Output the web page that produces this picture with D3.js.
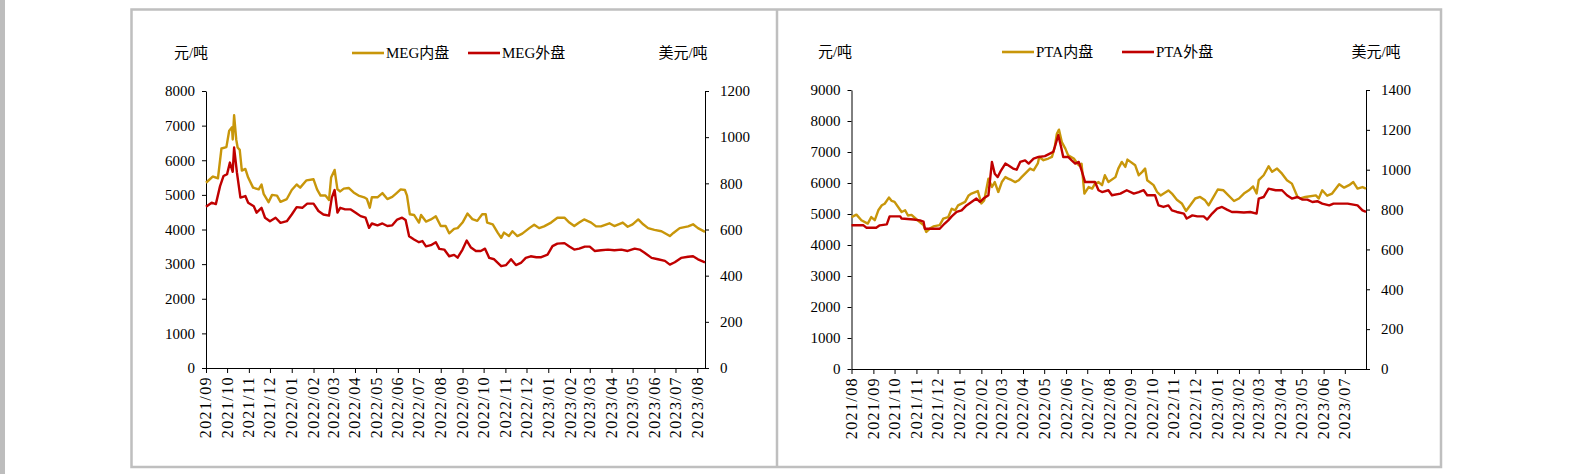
<!DOCTYPE html>
<html>
<head>
<meta charset="utf-8">
<script src="https://cdn.jsdelivr.net/npm/d3@7"></script>
<style>
  body { margin: 0; background: #fff; }
  svg { display: block; }
</style>
</head>
<body>
<svg id="chart" width="1584" height="474"></svg>
<script>
// ---------------- DATA ----------------
// MEG (left panel): domestic in 元/吨 (left axis), foreign in 美元/吨 (right axis)
const megDomestic = [
  ["2021-09-01",5350],["2021-09-09",5500],["2021-09-11",5530],["2021-09-18",5480],["2021-09-23",6340],
  ["2021-09-30",6380],["2021-10-04",6850],["2021-10-08",6950],["2021-10-09",6600],["2021-10-11",7300],
  ["2021-10-14",6600],["2021-10-16",6370],["2021-10-19",6300],["2021-10-22",5700],["2021-10-27",5750],
  ["2021-10-31",5500],["2021-11-07",5210],["2021-11-15",5160],["2021-11-19",5300],["2021-11-22",5030],
  ["2021-11-29",4790],["2021-12-04",5000],["2021-12-11",4980],["2021-12-16",4800],["2021-12-25",4880],
  ["2022-01-01",5140],["2022-01-08",5300],["2022-01-13",5210],["2022-01-22",5420],["2022-02-01",5450],
  ["2022-02-06",5160],["2022-02-11",4980],["2022-02-18",4980],["2022-02-23",4850],["2022-02-26",5500],
  ["2022-03-03",5720],["2022-03-07",5160],["2022-03-11",5100],["2022-03-16",5180],["2022-03-23",5200],
  ["2022-03-30",5070],["2022-04-06",4980],["2022-04-14",4930],["2022-04-18",4880],["2022-04-22",4630],
  ["2022-04-25",4930],["2022-05-03",4930],["2022-05-10",5050],["2022-05-17",4880],["2022-05-24",4940],
  ["2022-05-29",5030],["2022-06-05",5160],["2022-06-11",5140],["2022-06-14",4980],["2022-06-18",4440],
  ["2022-06-24",4420],["2022-07-01",4200],["2022-07-04",4420],["2022-07-11",4230],["2022-07-18",4290],
  ["2022-07-25",4380],["2022-08-01",4100],["2022-08-08",4100],["2022-08-13",3890],["2022-08-20",4020],
  ["2022-08-25",4040],["2022-09-01",4200],["2022-09-08",4460],["2022-09-15",4300],["2022-09-22",4250],
  ["2022-09-29",4440],["2022-10-04",4440],["2022-10-06",4200],["2022-10-14",4150],["2022-10-21",3910],
  ["2022-10-26",3760],["2022-10-30",3910],["2022-11-06",3810],["2022-11-11",3950],["2022-11-18",3810],
  ["2022-11-25",3880],["2022-12-05",4040],["2022-12-12",4140],["2022-12-19",4040],["2022-12-26",4090],
  ["2023-01-05",4200],["2023-01-14",4340],["2023-01-24",4340],["2023-01-31",4200],["2023-02-07",4100],
  ["2023-02-14",4200],["2023-02-21",4290],["2023-03-03",4200],["2023-03-10",4090],["2023-03-17",4090],
  ["2023-03-29",4180],["2023-04-05",4100],["2023-04-17",4200],["2023-04-24",4080],["2023-05-01",4150],
  ["2023-05-09",4290],["2023-05-16",4150],["2023-05-23",4040],["2023-06-01",3990],["2023-06-11",3950],
  ["2023-06-23",3810],["2023-06-28",3900],["2023-07-07",4040],["2023-07-19",4090],["2023-07-26",4150],
  ["2023-08-02",4040],["2023-08-12",3930]
];
const megForeign = [
  ["2021-09-01",699],["2021-09-09",716],["2021-09-15",710],["2021-09-21",788],["2021-09-26",832],
  ["2021-10-01",840],["2021-10-05",890],["2021-10-09",850],["2021-10-11",955],["2021-10-15",847],
  ["2021-10-20",738],["2021-10-27",745],["2021-10-31",716],["2021-11-08",701],["2021-11-12",673],
  ["2021-11-19",694],["2021-11-24",651],["2021-12-01",636],["2021-12-09",651],["2021-12-16",629],
  ["2021-12-25",636],["2022-01-01",665],["2022-01-08",697],["2022-01-16",694],["2022-01-23",712],
  ["2022-02-01",712],["2022-02-08",680],["2022-02-15",665],["2022-02-23",660],["2022-02-27",738],
  ["2022-03-03",771],["2022-03-07",673],["2022-03-11",694],["2022-03-18",687],["2022-03-26",687],
  ["2022-04-02",673],["2022-04-09",658],["2022-04-16",651],["2022-04-21",607],["2022-04-25",626],
  ["2022-05-03",618],["2022-05-10",626],["2022-05-17",615],["2022-05-24",618],["2022-05-31",643],
  ["2022-06-07",651],["2022-06-12",641],["2022-06-17",571],["2022-06-24",557],["2022-07-01",545],
  ["2022-07-06",550],["2022-07-11",527],["2022-07-18",532],["2022-07-25",545],["2022-07-30",516],
  ["2022-08-06",513],["2022-08-13",484],["2022-08-20",490],["2022-08-25",478],["2022-09-01",513],
  ["2022-09-07",552],["2022-09-13",522],["2022-09-20",507],["2022-09-27",507],["2022-10-03",517],
  ["2022-10-09",477],["2022-10-16",471],["2022-10-26",441],["2022-11-02",446],["2022-11-09",471],
  ["2022-11-16",446],["2022-11-23",455],["2022-11-30",477],["2022-12-07",484],["2022-12-15",480],
  ["2022-12-22",480],["2022-12-31",491],["2023-01-07",528],["2023-01-14",539],["2023-01-24",541],
  ["2023-01-31",526],["2023-02-07",513],["2023-02-14",517],["2023-02-22",526],["2023-03-01",526],
  ["2023-03-08",507],["2023-03-17",510],["2023-03-27",513],["2023-04-05",510],["2023-04-15",513],
  ["2023-04-24",507],["2023-05-04",517],["2023-05-11",513],["2023-05-18",499],["2023-05-28",477],
  ["2023-06-06",471],["2023-06-16",464],["2023-06-23",448],["2023-06-30",458],["2023-07-09",477],
  ["2023-07-19",482],["2023-07-26",484],["2023-08-02",471],["2023-08-12",458]
];
// PTA (right panel)
const ptaDomestic = [
  ["2021-08-01",4900],["2021-08-08",4980],["2021-08-15",4800],["2021-08-24",4690],["2021-08-29",4900],
  ["2021-09-03",4800],["2021-09-08",5120],["2021-09-13",5280],["2021-09-17",5330],["2021-09-23",5530],
  ["2021-09-27",5420],["2021-10-01",5390],["2021-10-11",5065],["2021-10-16",5120],["2021-10-20",4950],
  ["2021-10-25",4970],["2021-11-01",4830],["2021-11-11",4640],["2021-11-15",4420],["2021-11-20",4530],
  ["2021-11-25",4600],["2021-12-04",4640],["2021-12-09",4850],["2021-12-16",4900],["2021-12-21",5170],
  ["2021-12-26",5120],["2021-12-30",5280],["2022-01-09",5390],["2022-01-14",5600],["2022-01-18",5660],
  ["2022-01-27",5740],["2022-02-01",5340],["2022-02-05",5440],["2022-02-11",6140],["2022-02-16",5870],
  ["2022-02-20",6030],["2022-02-25",5710],["2022-03-02",6030],["2022-03-07",6190],["2022-03-11",6140],
  ["2022-03-16",6090],["2022-03-21",6030],["2022-03-26",6090],["2022-03-30",6190],["2022-04-11",6465],
  ["2022-04-16",6410],["2022-04-22",6630],["2022-04-24",6840],["2022-04-30",6735],["2022-05-07",6790],
  ["2022-05-12",6840],["2022-05-16",7160],["2022-05-19",7590],["2022-05-22",7720],["2022-05-26",7320],
  ["2022-05-31",7110],["2022-06-04",6890],["2022-06-12",6790],["2022-06-19",6570],["2022-06-23",6620],
  ["2022-06-27",5660],["2022-07-03",5870],["2022-07-08",5820],["2022-07-12",5980],["2022-07-17",6030],
  ["2022-07-22",5930],["2022-07-26",6250],["2022-07-31",6030],["2022-08-10",6190],["2022-08-14",6465],
  ["2022-08-19",6680],["2022-08-24",6520],["2022-08-27",6755],["2022-09-07",6570],["2022-09-12",6250],
  ["2022-09-17",6360],["2022-09-21",6465],["2022-09-24",6090],["2022-10-03",5930],["2022-10-08",5710],
  ["2022-10-13",5600],["2022-10-24",5760],["2022-10-29",5660],["2022-11-05",5460],["2022-11-12",5340],
  ["2022-11-18",5100],["2022-11-24",5280],["2022-12-01",5500],["2022-12-08",5550],["2022-12-15",5440],
  ["2022-12-20",5280],["2022-12-27",5550],["2023-01-02",5790],["2023-01-10",5765],["2023-01-25",5420],
  ["2023-02-01",5500],["2023-02-08",5660],["2023-02-15",5765],["2023-02-21",5890],["2023-02-26",5660],
  ["2023-03-01",6090],["2023-03-08",6250],["2023-03-15",6540],["2023-03-20",6360],["2023-03-27",6465],
  ["2023-04-03",6300],["2023-04-10",6090],["2023-04-17",5980],["2023-04-25",5550],["2023-04-29",5500],
  ["2023-05-06",5550],["2023-05-21",5600],["2023-05-25",5500],["2023-05-30",5765],["2023-06-06",5590],
  ["2023-06-13",5660],["2023-06-23",5960],["2023-06-30",5850],["2023-07-07",5930],["2023-07-13",6030],
  ["2023-07-19",5820],["2023-07-26",5870],["2023-07-31",5820]
];
const ptaForeign = [
  ["2021-08-01",721],["2021-08-18",721],["2021-08-22",709],["2021-09-05",709],["2021-09-10",721],
  ["2021-09-20",726],["2021-09-24",766],["2021-10-09",766],["2021-10-11",755],["2021-10-28",750],
  ["2021-11-06",746],["2021-11-11",740],["2021-11-13",704],["2021-12-04",704],["2021-12-11",730],
  ["2021-12-16",746],["2021-12-21",766],["2021-12-28",788],["2022-01-04",796],["2022-01-11",821],
  ["2022-01-18",838],["2022-01-25",855],["2022-01-30",838],["2022-02-04",855],["2022-02-11",872],
  ["2022-02-16",1039],["2022-02-20",980],["2022-02-24",963],["2022-03-01",997],["2022-03-07",1031],
  ["2022-03-11",1022],["2022-03-18",1006],["2022-03-23",1000],["2022-03-28",1039],["2022-04-04",1047],
  ["2022-04-09",1031],["2022-04-16",1056],["2022-04-23",1064],["2022-05-02",1068],["2022-05-09",1081],
  ["2022-05-14",1090],["2022-05-21",1173],["2022-05-25",1114],["2022-05-28",1064],["2022-06-04",1064],
  ["2022-06-09",1047],["2022-06-14",1031],["2022-06-19",1039],["2022-06-23",997],["2022-06-28",938],
  ["2022-07-12",938],["2022-07-17",897],["2022-07-22",888],["2022-07-31",897],["2022-08-05",872],
  ["2022-08-17",880],["2022-08-26",897],["2022-09-05",880],["2022-09-12",888],["2022-09-19",897],
  ["2022-09-24",872],["2022-10-05",872],["2022-10-10",821],["2022-10-17",813],["2022-10-24",821],
  ["2022-10-29",796],["2022-11-05",788],["2022-11-15",780],["2022-11-19",755],["2022-11-27",771],
  ["2022-12-04",766],["2022-12-13",766],["2022-12-18",750],["2022-12-25",780],["2023-01-01",805],
  ["2023-01-08",813],["2023-01-15",800],["2023-01-22",788],["2023-01-29",788],["2023-02-08",785],
  ["2023-02-17",788],["2023-02-26",780],["2023-03-01",855],["2023-03-08",863],["2023-03-15",905],
  ["2023-03-25",897],["2023-04-03",897],["2023-04-10",872],["2023-04-17",855],["2023-04-25",863],
  ["2023-05-02",850],["2023-05-09",850],["2023-05-16",838],["2023-05-23",842],["2023-05-30",830],
  ["2023-06-09",821],["2023-06-15",830],["2023-07-05",830],["2023-07-19",821],["2023-07-26",796],
  ["2023-07-31",788]
];

const megMonthLabels = ["2021/09","2021/10","2021/11","2021/12","2022/01","2022/02","2022/03","2022/04",
  "2022/05","2022/06","2022/07","2022/08","2022/09","2022/10","2022/11","2022/12","2023/01","2023/02",
  "2023/03","2023/04","2023/05","2023/06","2023/07","2023/08"];
const ptaMonthLabels = ["2021/08","2021/09","2021/10","2021/11","2021/12","2022/01","2022/02","2022/03",
  "2022/04","2022/05","2022/06","2022/07","2022/08","2022/09","2022/10","2022/11","2022/12","2023/01",
  "2023/02","2023/03","2023/04","2023/05","2023/06","2023/07"];

const megLeftTicks = [0,1000,2000,3000,4000,5000,6000,7000,8000];
const megRightTicks = [0,200,400,600,800,1000,1200];
const ptaLeftTicks = [0,1000,2000,3000,4000,5000,6000,7000,8000,9000];
const ptaRightTicks = [0,200,400,600,800,1000,1200,1400];

const seriesNames = { megDom: "MEG内盘", megFor: "MEG外盘", ptaDom: "PTA内盘", ptaFor: "PTA外盘" };
const unitLeft = "元/吨", unitRight = "美元/吨";

// ---------------- STYLE ----------------
const GOLD = "#C8960A", RED = "#C00000";
const NUMFONT = "'Liberation Serif','Times New Roman',serif";
const CJKFONT = "'Liberation Serif','Noto Sans CJK SC',serif";

const parse = d3.timeParse("%Y-%m-%d");
const svg = d3.select("#chart");

// background decorations
svg.append("rect").attr("x",0).attr("y",0).attr("width",5).attr("height",474).attr("fill","#BDBDBD");
svg.append("rect").attr("x",131.5).attr("y",9.5).attr("width",1309.5).attr("height",457.5)
  .attr("fill","none").attr("stroke","#BFBFBF").attr("stroke-width",2.5);
svg.append("line").attr("x1",777).attr("x2",777).attr("y1",9.5).attr("y2",467)
  .attr("stroke","#BFBFBF").attr("stroke-width",2.5);

function panel(cfg) {
  const g = svg.append("g");
  const dom = cfg.dom.map(([d,v]) => ({date: parse(d), v}));
  const fr = cfg.fr.map(([d,v]) => ({date: parse(d), v}));
  const ext = d3.extent(dom.concat(fr), d => d.date);
  const x = d3.scaleTime().domain(ext).range([cfg.x0, cfg.x1]);
  const yL = d3.scaleLinear().domain([0, d3.max(cfg.leftTicks)]).range([cfg.y1, cfg.y0]);
  const yR = d3.scaleLinear().domain([0, d3.max(cfg.rightTicks)]).range([cfg.y1, cfg.y0]);

  const styleAxis = sel => {
    sel.selectAll("path,line").attr("stroke","#000").attr("stroke-width",1);
    sel.selectAll("text").attr("font-family",NUMFONT).attr("font-size",15).attr("fill","#000");
  };

  g.append("g").attr("transform",`translate(${cfg.x0},0)`)
    .call(d3.axisLeft(yL).tickValues(cfg.leftTicks).tickSize(4).tickSizeOuter(0).tickPadding(7).tickFormat(d3.format("d")))
    .call(styleAxis);
  g.append("g").attr("transform",`translate(${cfg.x1},0)`)
    .call(d3.axisRight(yR).tickValues(cfg.rightTicks).tickSize(4).tickSizeOuter(0).tickPadding(11).tickFormat(d3.format("d")))
    .call(styleAxis);

  const months = cfg.monthLabels.map(s => d3.timeParse("%Y/%m")(s));
  g.append("g").attr("transform",`translate(0,${cfg.y1})`)
    .call(d3.axisBottom(x).tickValues(months).tickSize(5).tickSizeOuter(0).tickFormat(""))
    .call(styleAxis);
  g.selectAll("text.xl").data(months).join("text").attr("class","xl")
    .attr("transform", d => `translate(${x(d)},${cfg.y1 + 8}) rotate(-90)`)
    .attr("text-anchor","end").attr("dy","0.34em")
    .attr("font-family",NUMFONT).attr("font-size",16).attr("letter-spacing",1.4)
    .text((d,i) => cfg.monthLabels[i]);

  const lineL = d3.line().x(d => x(d.date)).y(d => yL(d.v));
  const lineR = d3.line().x(d => x(d.date)).y(d => yR(d.v));
  g.append("path").datum(dom).attr("d",lineL).attr("fill","none").attr("stroke",GOLD)
    .attr("stroke-width",2.4).attr("stroke-linejoin","round");
  g.append("path").datum(fr).attr("d",lineR).attr("fill","none").attr("stroke",RED)
    .attr("stroke-width",2.4).attr("stroke-linejoin","round");

  // units
  g.append("text").attr("x",cfg.unitL).attr("y",cfg.ly).attr("dy","0.35em").attr("text-anchor","middle")
    .attr("font-family",CJKFONT).attr("font-size",15).text(unitLeft);
  g.append("text").attr("x",cfg.unitR).attr("y",cfg.ly).attr("dy","0.35em").attr("text-anchor","middle")
    .attr("font-family",CJKFONT).attr("font-size",15).text(unitRight);
  // legend
  const leg = [[cfg.legGold, GOLD, cfg.nameDom],[cfg.legRed, RED, cfg.nameFr]];
  leg.forEach(([lx,c,name]) => {
    g.append("line").attr("x1",lx).attr("x2",lx+32).attr("y1",cfg.ly).attr("y2",cfg.ly)
      .attr("stroke",c).attr("stroke-width",2.6);
    g.append("text").attr("x",lx+34).attr("y",cfg.ly).attr("dy","0.35em")
      .attr("font-family",CJKFONT).attr("font-size",15).text(name);
  });
}

panel({dom: megDomestic, fr: megForeign, x0: 206, x1: 705, y0: 91, y1: 368,
  leftTicks: megLeftTicks, rightTicks: megRightTicks, monthLabels: megMonthLabels,
  unitL: 191, unitR: 683, ly: 53, legGold: 352, legRed: 468,
  nameDom: seriesNames.megDom, nameFr: seriesNames.megFor});
panel({dom: ptaDomestic, fr: ptaForeign, x0: 851.5, x1: 1366, y0: 90, y1: 369,
  leftTicks: ptaLeftTicks, rightTicks: ptaRightTicks, monthLabels: ptaMonthLabels,
  unitL: 835, unitR: 1376, ly: 52, legGold: 1002, legRed: 1122,
  nameDom: seriesNames.ptaDom, nameFr: seriesNames.ptaFor});
</script>
</body>
</html>
